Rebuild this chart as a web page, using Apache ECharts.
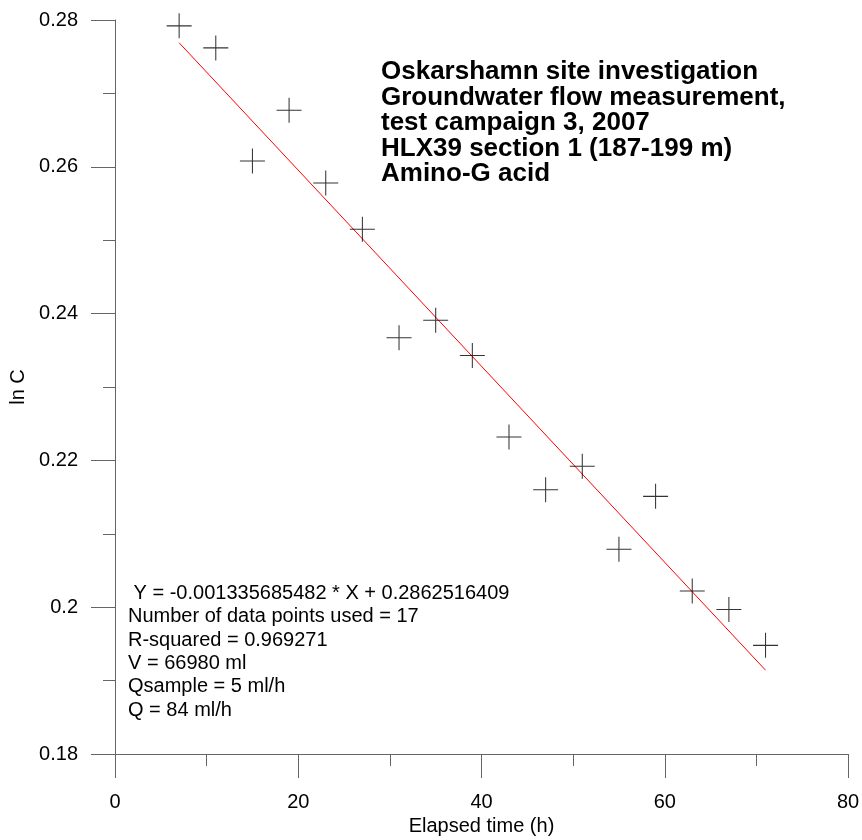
<!DOCTYPE html>
<html>
<head>
<meta charset="utf-8">
<script src="https://cdn.jsdelivr.net/npm/echarts@6/dist/echarts.min.js"></script>
<style>
html,body{margin:0;padding:0;background:#fff;}
#chart{width:862px;height:840px;}
</style>
</head>
<body>
<div id="chart"></div>
<script>
// Elapsed time (h)
var timeH = [7, 11, 15, 19, 23, 27, 31, 35, 39, 43, 47, 51, 55, 59, 63, 67, 71];
// ln C
var lnC = [0.2792, 0.2762, 0.2608, 0.2677, 0.2578, 0.2515, 0.2367, 0.2391, 0.2343,
           0.2232, 0.2160, 0.2192, 0.2079, 0.2151, 0.2022, 0.1997, 0.1948];
// regression line end points
var fitX = [7, 71];
var fitY = [0.27690, 0.19142];
var titleLines = [
  'Oskarshamn site investigation',
  'Groundwater flow measurement,',
  'test campaign 3, 2007',
  'HLX39 section 1 (187-199 m)',
  'Amino-G acid'
];
var statLines = [
  ' Y = -0.001335685482 * X + 0.2862516409',
  'Number of data points used = 17',
  'R-squared = 0.969271',
  'V = 66980 ml',
  'Qsample = 5 ml/h',
  'Q = 84 ml/h'
];
var xTicks = [0, 20, 40, 60, 80];
var yTicks = ['0.18', '0.2', '0.22', '0.24', '0.26', '0.28'];

var points = timeH.map(function (t, i) { return [t, lnC[i]]; });
var fit = fitX.map(function (t, i) { return [t, fitY[i]]; });

var axisColor = '#666666';
var font = '"Liberation Sans", Arial, sans-serif';
var plus = 'path://M11.5,0 L12.5,0 L12.5,11.5 L24,11.5 L24,12.5 L12.5,12.5 L12.5,24 L11.5,24 L11.5,12.5 L0,12.5 L0,11.5 L11.5,11.5 Z';

var chart = echarts.init(document.getElementById('chart'), null, {renderer: 'canvas'});
chart.setOption({
  backgroundColor: '#ffffff',
  animation: false,
  grid: {left: 115, right: 14, top: 20, bottom: 86, containLabel: false, outerBoundsMode: 'none'},
  xAxis: {
    type: 'value', min: 0, max: 80, interval: 20,
    name: 'Elapsed time (h)', nameLocation: 'middle', nameGap: 62,
    nameTextStyle: {fontFamily: font, fontSize: 20, color: '#000'},
    axisLine: {show: true, lineStyle: {color: axisColor, width: 1}},
    axisTick: {show: true, inside: false, length: 24, lineStyle: {color: axisColor, width: 1}},
    minorTick: {show: true, splitNumber: 2, length: 12, lineStyle: {color: axisColor, width: 1}},
    splitLine: {show: false},
    axisLabel: {margin: 38, fontFamily: font, fontSize: 20, color: '#000',
      formatter: function (v) { var i = xTicks.indexOf(v); return i >= 0 ? String(xTicks[i]) : ''; }}
  },
  yAxis: {
    type: 'value', min: 0.18, max: 0.28, interval: 0.02,
    name: 'ln C', nameLocation: 'middle', nameGap: 84, nameRotate: 90,
    nameTextStyle: {fontFamily: font, fontSize: 20, color: '#000'},
    axisLine: {show: true, lineStyle: {color: axisColor, width: 1}},
    axisTick: {show: true, inside: false, length: 24, lineStyle: {color: axisColor, width: 1}},
    minorTick: {show: true, splitNumber: 2, length: 12, lineStyle: {color: axisColor, width: 1}},
    splitLine: {show: false},
    axisLabel: {margin: 37, fontFamily: font, fontSize: 20, color: '#000',
      formatter: function (v) { var idx = Math.round((v - 0.18) / 0.02); return yTicks[idx] || ''; }}
  },
  series: [
    {
      type: 'line', data: fit, showSymbol: false, symbol: 'none',
      lineStyle: {color: '#ff0000', width: 1}, z: 2, silent: true
    },
    {
      type: 'scatter', data: points, symbol: plus, symbolSize: 25,
      itemStyle: {color: '#000000'}, z: 3, silent: true
    }
  ],
  graphic: [
    {
      type: 'text', left: 381, top: 59, silent: true,
      style: {text: titleLines.join('\n'), font: 'bold 26px ' + font, fill: '#000', lineHeight: 25.5}
    },
    {
      type: 'text', left: 128, top: 582, silent: true,
      style: {text: statLines.join('\n'), font: '20px ' + font, fill: '#000', lineHeight: 23.3}
    }
  ]
});
</script>
</body>
</html>
